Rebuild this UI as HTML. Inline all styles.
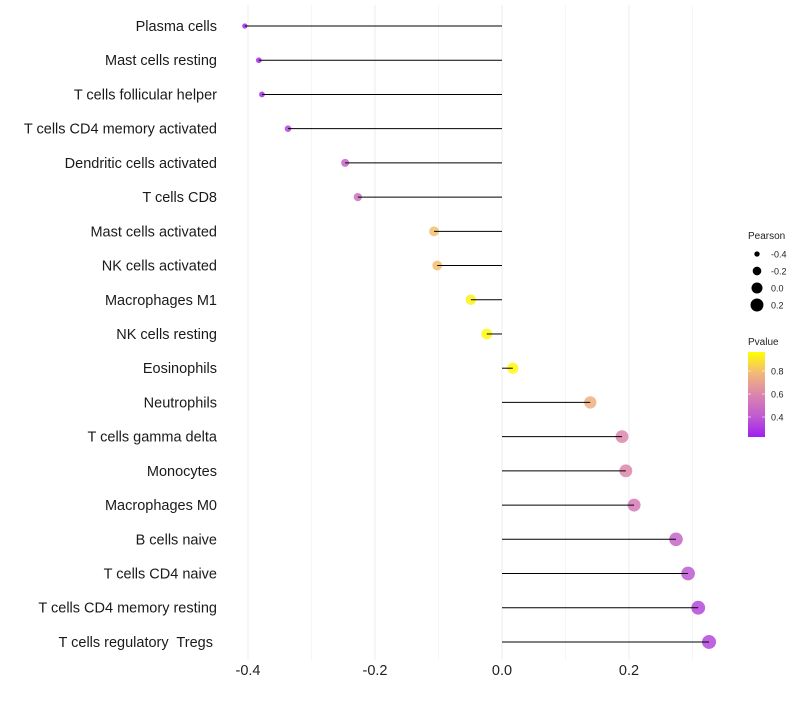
<!DOCTYPE html>
<html><head><meta charset="utf-8"><style>
body{margin:0;background:#fff;font-family:"Liberation Sans",sans-serif}
text{white-space:pre}
</style></head><body>
<svg id="c" width="800" height="700" xmlns="http://www.w3.org/2000/svg" xml:space="preserve"></svg>
<script>
const cells=["Plasma cells","Mast cells resting","T cells follicular helper","T cells CD4 memory activated","Dendritic cells activated","T cells CD8","Mast cells activated","NK cells activated","Macrophages M1","NK cells resting","Eosinophils","Neutrophils","T cells gamma delta","Monocytes","Macrophages M0","B cells naive","T cells CD4 naive","T cells CD4 memory resting","T cells regulatory  Tregs "];
const pearson=[-0.405,-0.383,-0.378,-0.337,-0.247,-0.227,-0.107,-0.102,-0.049,-0.024,0.017,0.139,0.189,0.195,0.208,0.274,0.293,0.309,0.326];
const pvalue=[0.25,0.27,0.27,0.33,0.45,0.5,0.8,0.8,0.93,0.95,0.95,0.75,0.6,0.6,0.55,0.45,0.4,0.35,0.35];
const xTicks=[-0.4,-0.2,0.0,0.2];
const xMinor=[-0.3,-0.1,0.1,0.3];
const sizeLegend=[-0.4,-0.2,0.0,0.2];
const pTicks=[0.4,0.6,0.8];
const svg=document.getElementById('c');const NS="http://www.w3.org/2000/svg";
function el(t,a,p){const e=document.createElementNS(NS,t);for(const k in a)e.setAttribute(k,a[k]);(p||svg).appendChild(e);return e;}
const X=v=>502+v*635;
const Y=i=>26+i*34.22;
const R=v=>Math.sqrt(Math.max(3.2,16+57.6*(v+0.247)));
const stops=[[0,[160,32,240]],[0.25,[192,92,208]],[0.5,[220,133,172]],[0.75,[242,184,122]],[1,[255,255,0]]];
function col(p){const f=Math.min(1,Math.max(0,(p-0.226)/(0.965-0.226)));for(let i=1;i<stops.length;i++){if(f<=stops[i][0]){const a=stops[i-1],b=stops[i];const t=(f-a[0])/(b[0]-a[0]);return 'rgb('+a[1].map((c,j)=>Math.round(c+(b[1][j]-c)*t)).join(',')+')';}}return 'rgb(255,255,0)';}
xMinor.forEach(v=>{const g=el('line',{x1:X(v),x2:X(v),y1:5,y2:660,stroke:'#f5f5f5','stroke-width':1});});
xTicks.forEach(v=>{const g=el('line',{x1:X(v),x2:X(v),y1:5,y2:660,stroke:'#eeeeee','stroke-width':1});
const t=el('text',{x:X(v),y:675,'text-anchor':'middle','font-size':14.5,fill:'#222'});t.textContent=v.toFixed(1);});
cells.forEach((c,i)=>{const y=Y(i);
const t=el('text',{x:217,y:y+5,'text-anchor':'end','font-size':14.5,fill:'#1a1a1a'});t.textContent=c;
const d=el('circle',{cx:X(pearson[i]),cy:y,r:R(pearson[i]),fill:col(pvalue[i]),'fill-opacity':0.85});
const l=el('line',{x1:X(0),x2:X(pearson[i]),y1:y,y2:y,stroke:'#000','stroke-width':1});});
let t=el('text',{x:748,y:239,'font-size':10,fill:'#222'});t.textContent='Pearson';
sizeLegend.forEach((v,i)=>{const y=254+i*17;const c=el('circle',{cx:757,cy:y,r:R(v),fill:'#000'});
const tt=el('text',{x:771,y:y+3.5,'font-size':9,fill:'#222'});tt.textContent=v.toFixed(1);});
t=el('text',{x:748,y:345,'font-size':10,fill:'#222'});t.textContent='Pvalue';
const defs=el('defs',{});const lg=el('linearGradient',{id:'g',x1:0,y1:1,x2:0,y2:0},defs);
stops.forEach(s=>el('stop',{offset:s[0],'stop-color':'rgb('+s[1].join(',')+')'},lg));
const bar=el('rect',{x:748,y:352,width:17,height:85,fill:'url(#g)'});
pTicks.forEach(p=>{const y=437-(p-0.226)/(0.965-0.226)*85;el('line',{x1:748,x2:751,y1:y,y2:y,stroke:'#fff','stroke-opacity':0.6});el('line',{x1:762,x2:765,y1:y,y2:y,stroke:'#fff','stroke-opacity':0.6});
const tt=el('text',{x:771,y:y+3.5,'font-size':9,fill:'#222'});tt.textContent=p.toFixed(1);});
</script>
</body></html>
